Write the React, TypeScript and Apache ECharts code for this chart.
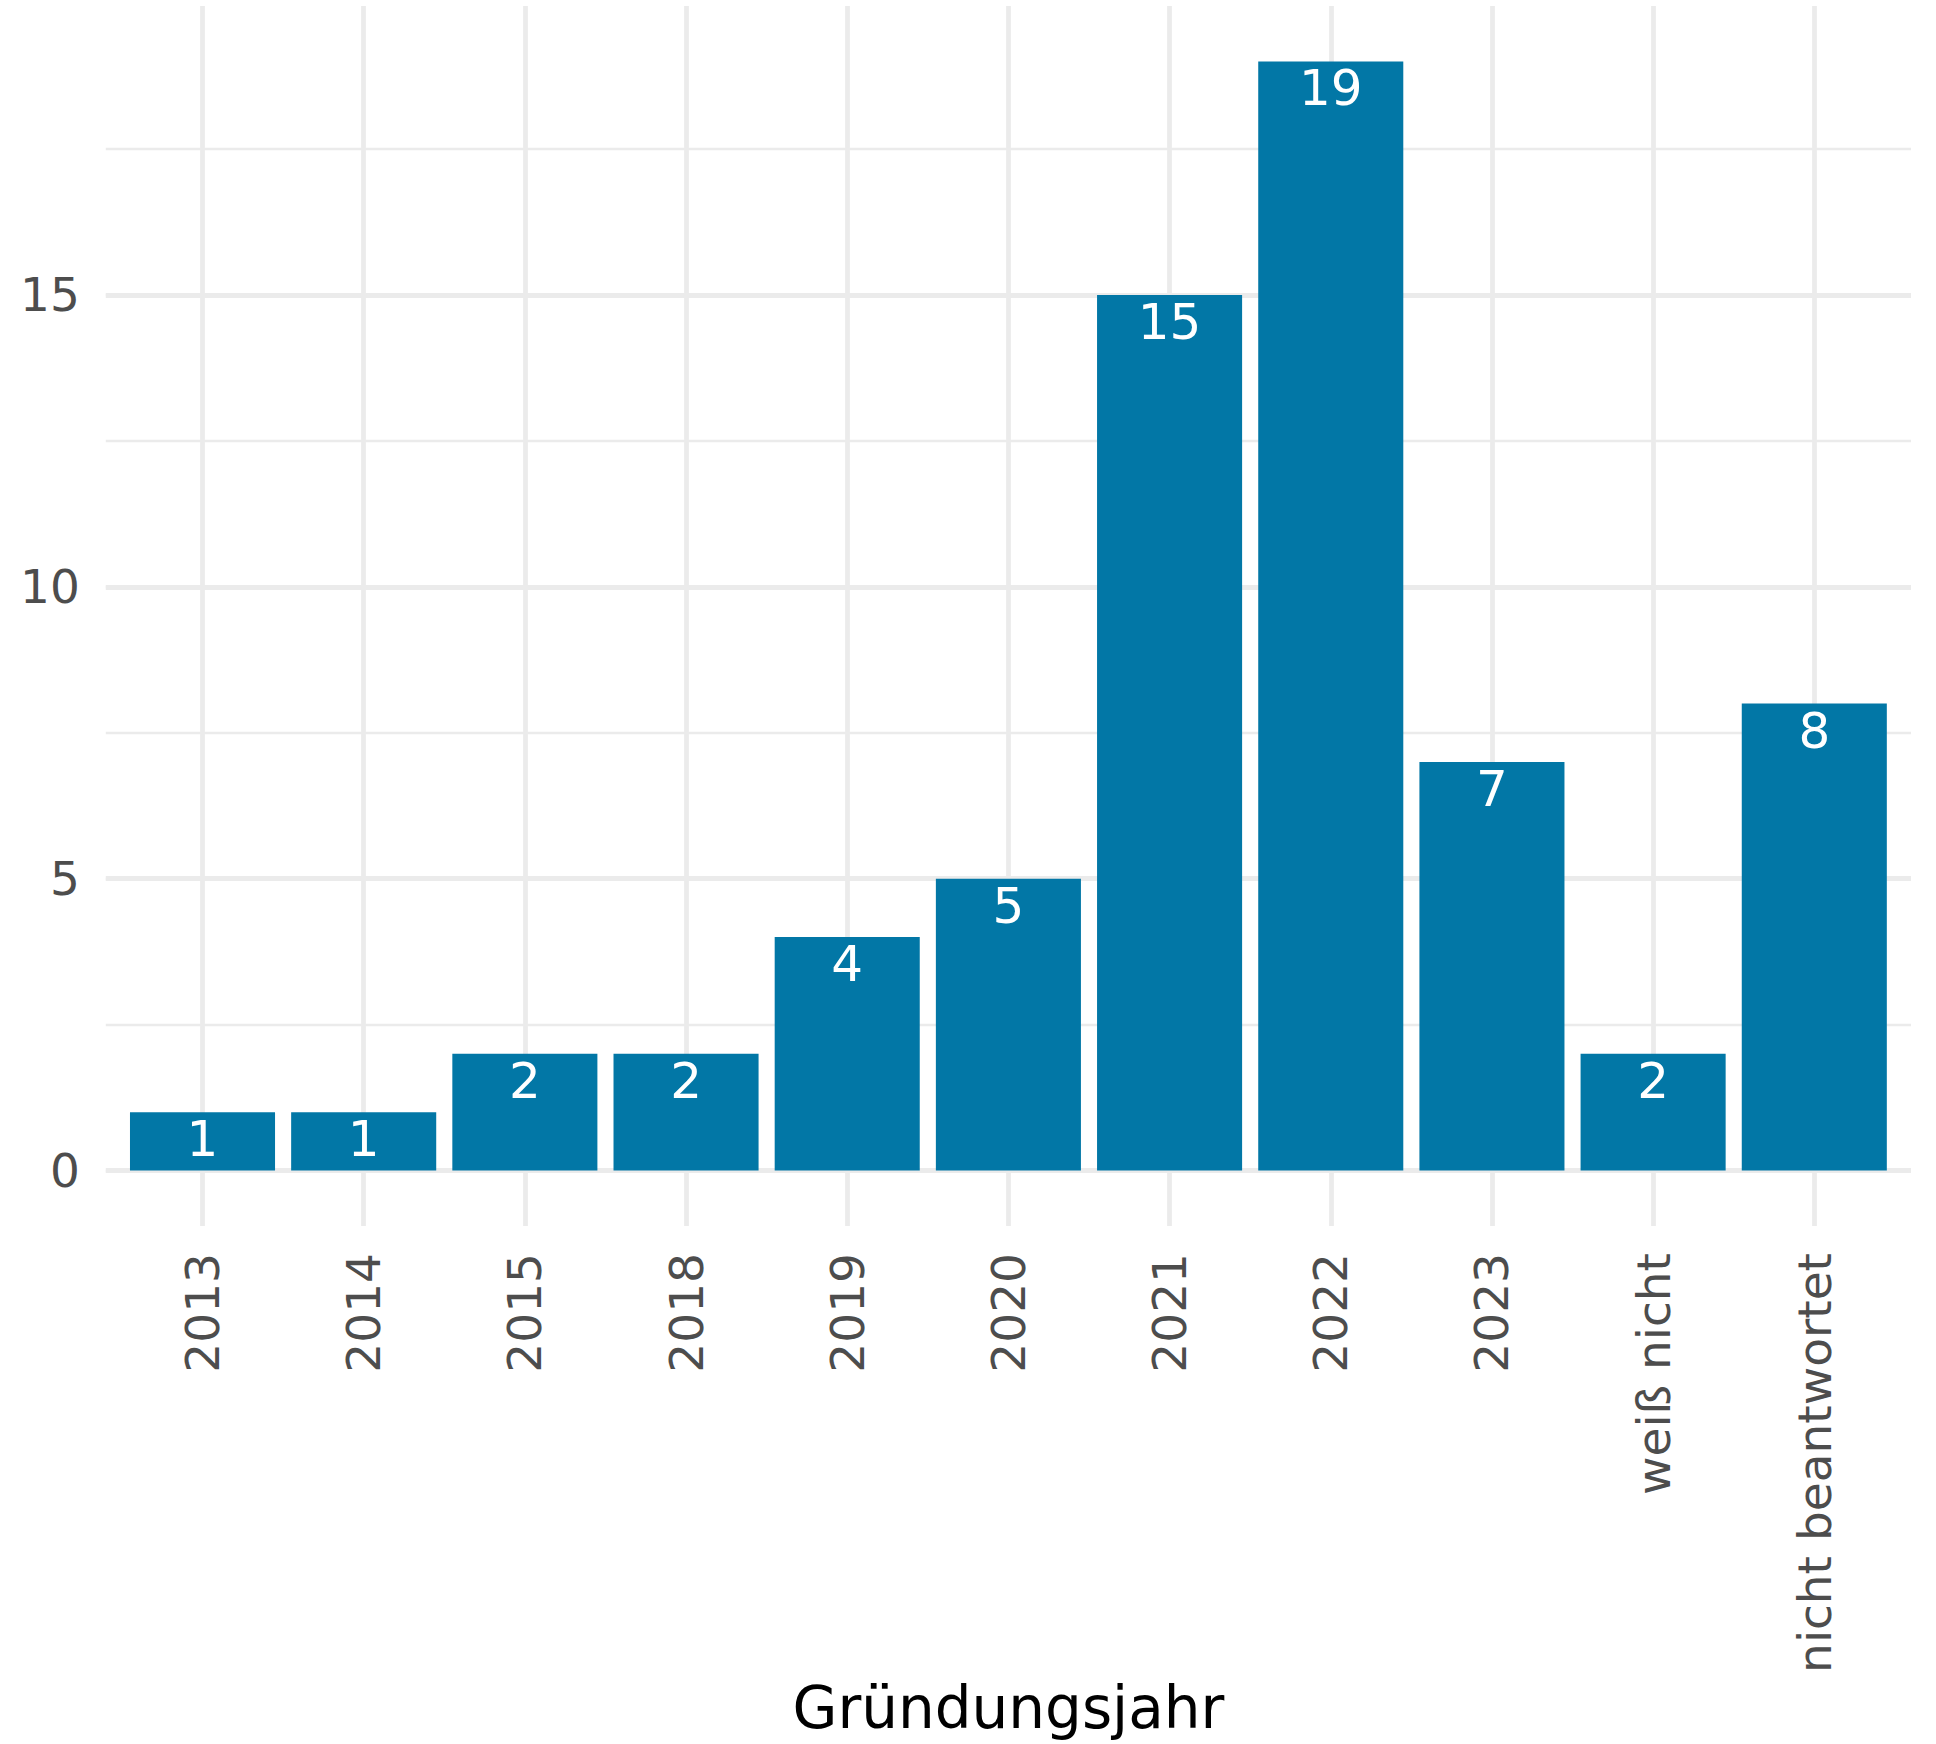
import React, { useEffect, useRef } from "react";
import * as echarts from "echarts";

// ---- data ----
const categories = [
  "2013",
  "2014",
  "2015",
  "2018",
  "2019",
  "2020",
  "2021",
  "2022",
  "2023",
  "weiß nicht",
  "nicht beantwortet",
];
const counts = [1, 1, 2, 2, 4, 5, 15, 19, 7, 2, 8];
const xTitle = "Gründungsjahr";
const majorStep = 5;
const minorStep = 2.5;

// ---- layout ----
const W = 1936;
const H = 1744;
const FONT = "DejaVu Sans";
const BAR = "#0277A6";
const GRID = "#EBEBEB";
const TICK = "#4D4D4D";

export default function App() {
  const ref = useRef<HTMLDivElement>(null);

  useEffect(() => {
    if (!ref.current) return;
    const chart = echarts.init(ref.current, undefined, { renderer: "svg" });

    const n = categories.length;
    const maxV = Math.max(...counts);
    const yMin = -0.05 * maxV;
    const yMax = maxV * 1.05;

    const panelLeft = 105.8;
    const panelRight = 1911;
    const panelTop = 6;
    const panelBottom = 1226;
    const unit = (panelBottom - panelTop) / (yMax - yMin);
    const y0 = panelBottom + yMin * unit;
    const step = (panelRight - panelLeft) / (n - 1 + 1.2);

    const majorMax = Math.floor(yMax / majorStep) * majorStep;
    const minorMax = Math.floor(yMax / minorStep) * minorStep;

    const option: any = {
      animation: false,
      grid: [
        // 0: minor horizontal gridlines
        {
          left: panelLeft,
          right: W - panelRight,
          top: y0 - minorMax * unit,
          bottom: H - y0,
        },
        // 1: major horizontal gridlines + y labels
        {
          left: panelLeft,
          right: W - panelRight,
          top: y0 - majorMax * unit,
          bottom: H - y0,
        },
        // 2: vertical gridlines
        {
          left: panelLeft + 0.6 * step,
          right: W - (panelRight - 0.6 * step),
          top: panelTop,
          bottom: H - panelBottom,
        },
        // 3: bars
        {
          left: panelLeft + 0.1 * step,
          right: W - (panelRight - 0.1 * step),
          top: panelTop,
          bottom: H - panelBottom,
        },
      ],
      xAxis: [
        { gridIndex: 0, type: "value", min: 0, max: 1, show: false },
        { gridIndex: 1, type: "value", min: 0, max: 1, show: false },
        {
          gridIndex: 2,
          type: "value",
          min: 0,
          max: n - 1,
          interval: 1,
          axisLine: { show: false },
          axisTick: { show: false },
          axisLabel: { show: false },
          splitLine: { show: true, lineStyle: { color: GRID, width: 4.8 } },
        },
        {
          gridIndex: 3,
          type: "category",
          data: categories,
          axisLine: { show: false },
          axisTick: { show: false },
          splitLine: { show: false },
          axisLabel: {
            interval: 0,
            rotate: 90,
            margin: 27,
            color: TICK,
            fontSize: 47,
            fontFamily: FONT,
          },
        },
      ],
      yAxis: [
        {
          gridIndex: 0,
          type: "value",
          min: 0,
          max: minorMax,
          interval: minorStep,
          axisLine: { show: false },
          axisTick: { show: false },
          axisLabel: { show: false },
          splitLine: { show: true, lineStyle: { color: GRID, width: 2.4 } },
        },
        {
          gridIndex: 1,
          type: "value",
          min: 0,
          max: majorMax,
          interval: majorStep,
          axisLine: { show: false },
          axisTick: { show: false },
          axisLabel: {
            show: true,
            margin: 26,
            color: TICK,
            fontSize: 47,
            fontFamily: FONT,
          },
          splitLine: { show: true, lineStyle: { color: GRID, width: 4.8 } },
        },
        { gridIndex: 2, type: "value", min: 0, max: 1, show: false },
        { gridIndex: 3, type: "value", min: yMin, max: yMax, show: false },
      ],
      graphic: [
        {
          type: "text",
          x: (panelLeft + panelRight) / 2,
          y: 1708,
          style: {
            text: xTitle,
            fill: "#000000",
            fontSize: 58,
            fontFamily: FONT,
            textAlign: "center",
            textVerticalAlign: "middle",
          },
        },
      ],
      series: [
        {
          type: "bar",
          xAxisIndex: 3,
          yAxisIndex: 3,
          data: counts,
          barCategoryGap: "10%",
          itemStyle: { color: BAR },
          label: {
            show: true,
            position: "insideTop",
            distance: 2,
            color: "#FFFFFF",
            fontSize: 50,
            fontFamily: FONT,
          },
        },
      ],
    };

    chart.setOption(option);
    return () => chart.dispose();
  }, []);

  return (
    <div
      ref={ref}
      style={{ position: "absolute", left: 0, top: 0, width: W, height: H }}
    />
  );
}
